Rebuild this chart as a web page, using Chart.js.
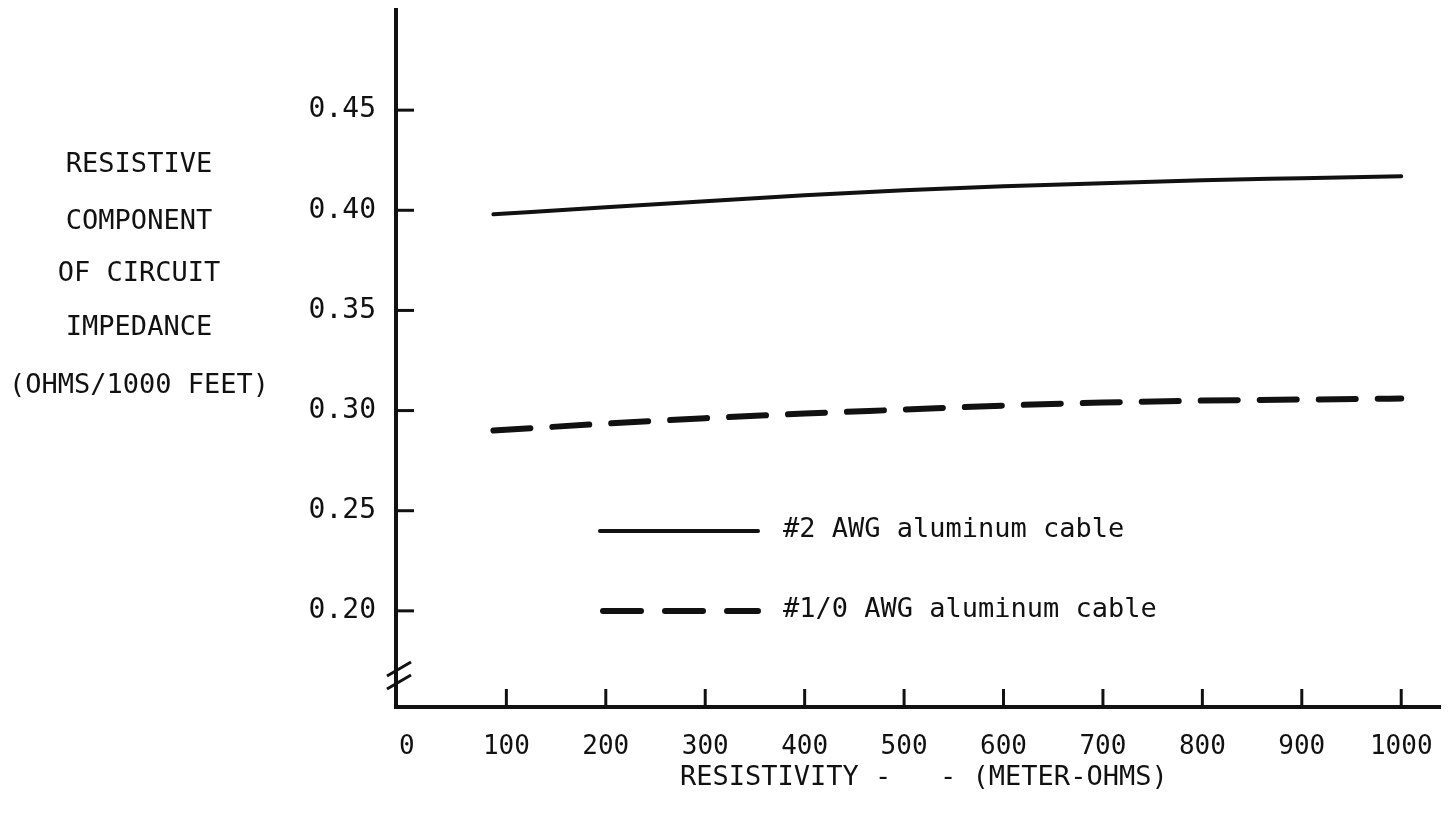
<!DOCTYPE html>
<html><head><meta charset="utf-8">
<script src="https://cdn.jsdelivr.net/npm/chart.js@4.4.0/dist/chart.umd.min.js"></script>
<style>html,body{margin:0;padding:0;background:#fff;overflow:hidden}</style>
</head><body>
<canvas id="c" width="1451" height="823" style="display:block;width:1451px;height:823px"></canvas>
<script>
// ---- data ----
const resistivity = [87, 200, 300, 400, 500, 600, 700, 800, 900, 1000];
const awg2Values  = [0.398, 0.4015, 0.4045, 0.4075, 0.410, 0.412, 0.4135, 0.415, 0.416, 0.417];
const awg10Values = [0.290, 0.2935, 0.2962, 0.2985, 0.3005, 0.3025, 0.304, 0.305, 0.3055, 0.306];
const xTickValues = [0, 100, 200, 300, 400, 500, 600, 700, 800, 900, 1000];
const yTickValues = [0.20, 0.25, 0.30, 0.35, 0.40, 0.45];
const seriesNames = ['#2 AWG aluminum cable', '#1/0 AWG aluminum cable'];
const yTitleLines = ['RESISTIVE', 'COMPONENT', 'OF CIRCUIT', 'IMPEDANCE', '(OHMS/1000 FEET)'];
const xTitle = 'RESISTIVITY -   - (METER-OHMS)';

const INK = '#111111';
const FONT = "'DejaVu Sans Mono', monospace";
Chart.defaults.font.family = FONT;
Chart.defaults.color = INK;

function line(ctx, x1, y1, x2, y2) { ctx.beginPath(); ctx.moveTo(x1, y1); ctx.lineTo(x2, y2); ctx.stroke(); }

const decor = {
  id: 'decor',
  afterDraw(chart) {
    const { ctx, chartArea: { left, bottom }, scales: { x, y } } = chart;
    ctx.save();
    ctx.strokeStyle = INK;
    ctx.lineWidth = 3;
    // inward tick marks
    xTickValues.forEach(v => {
      if (v === 0) return;
      const px = x.getPixelForValue(v);
      line(ctx, px, bottom, px, bottom - 18);
    });
    yTickValues.forEach(v => {
      const py = y.getPixelForValue(v);
      line(ctx, left, py, left + 18, py);
    });
    // axis break marks
    [bottom - 38, bottom - 25].forEach(c => line(ctx, left - 9, c + 7, left + 15, c - 7));

    // y-axis title (horizontal, stacked lines)
    ctx.fillStyle = INK;
    ctx.font = '27px ' + FONT;
    ctx.textAlign = 'center';
    ctx.textBaseline = 'middle';
    const yRows = [165, 222, 274, 328, 386];
    yTitleLines.forEach((t, i) => ctx.fillText(t, 139, yRows[i]));

    // x-axis title
    ctx.textAlign = 'left';
    ctx.fillText(xTitle, 680, 778);

    // legend
    ctx.lineWidth = 4;
    ctx.lineCap = 'round';
    line(ctx, 600, 531, 758, 531);
    ctx.fillText(seriesNames[0], 783, 530);
    ctx.lineWidth = 6;
    ctx.setLineDash([38, 24]);
    line(ctx, 603, 611, 758, 611);
    ctx.setLineDash([]);
    ctx.fillText(seriesNames[1], 783, 610);
    ctx.restore();
  }
};

new Chart(document.getElementById('c'), {
  type: 'line',
  data: {
    labels: resistivity,
    datasets: [
      {
        label: seriesNames[0],
        data: resistivity.map((r, i) => ({ x: r, y: awg2Values[i] })),
        borderColor: INK, borderWidth: 4, pointRadius: 0,
        borderCapStyle: 'round', cubicInterpolationMode: 'monotone'
      },
      {
        label: seriesNames[1],
        data: resistivity.map((r, i) => ({ x: r, y: awg10Values[i] })),
        borderColor: INK, borderWidth: 6, pointRadius: 0,
        borderDash: [37, 22], borderCapStyle: 'round', cubicInterpolationMode: 'monotone'
      }
    ]
  },
  options: {
    responsive: false,
    animation: false,
    layout: { padding: { left: 0, top: 10, right: 11, bottom: 0 } },
    plugins: { legend: { display: false }, tooltip: { enabled: false } },
    scales: {
      x: {
        type: 'linear', min: -11, max: 1039,
        grid: { display: false, drawTicks: false },
        border: { display: true, color: INK, width: 4 },
        ticks: { font: { size: 26 }, color: INK, padding: 25, maxRotation: 0, callback: v => String(v) },
        afterBuildTicks: s => { s.ticks = xTickValues.map(v => ({ value: v })); },
        afterFit: s => { s.height = 116; s.paddingLeft = 0; s.paddingRight = 0; }
      },
      y: {
        type: 'linear', min: 0.152, max: 0.50,
        grid: { display: false, drawTicks: false },
        border: { display: true, color: INK, width: 4 },
        ticks: { font: { size: 28 }, color: INK, padding: 20, callback: v => Number(v).toFixed(2) },
        afterBuildTicks: s => { s.ticks = yTickValues.map(v => ({ value: v })); },
        afterFit: s => { s.width = 396; s.paddingTop = 0; s.paddingBottom = 0; }
      }
    }
  },
  plugins: [decor]
});
</script>
</body></html>
